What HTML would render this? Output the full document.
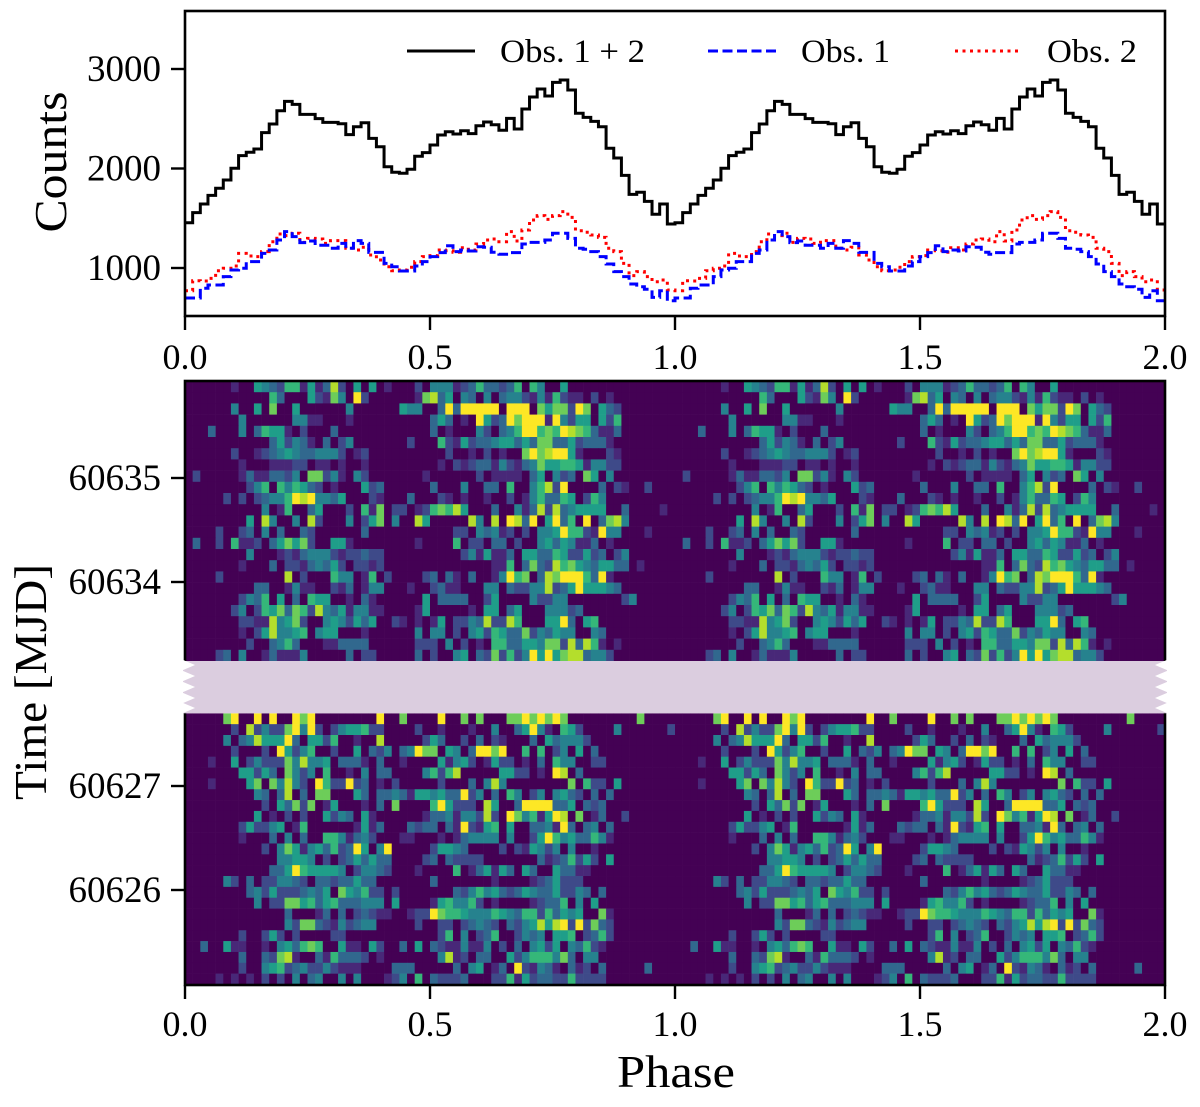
<!DOCTYPE html>
<html lang="en">
<head>
<meta charset="utf-8">
<title>Pulse profile and phaseogram</title>
<style>
html,body{margin:0;padding:0;background:#fff;}
svg{display:block;}
text{font-family:"Liberation Serif",serif;fill:#000;}
</style>
</head>
<body>
<svg id="chart" xmlns="http://www.w3.org/2000/svg" width="1200" height="1107" viewBox="0 0 1200 1107">
  <rect x="0" y="0" width="1200" height="1107" fill="#fff"/>
  <g id="profile-lines"></g>
  <g id="heat-cells"></g>
  <g id="gap-band"></g>
  <g id="frames"></g>
  <g id="ticks"></g>

  <text transform="translate(66,162) rotate(-90)" text-anchor="middle" font-size="46" textLength="141" lengthAdjust="spacingAndGlyphs">Counts</text>
  <text transform="translate(46,682) rotate(-90)" text-anchor="middle" font-size="46" textLength="236" lengthAdjust="spacingAndGlyphs">Time [MJD]</text>
  <text x="676" y="1087" text-anchor="middle" font-size="45" textLength="118" lengthAdjust="spacingAndGlyphs">Phase</text>

  <g>
    <line x1="407" y1="51" x2="475" y2="51" stroke="#000" stroke-width="3"/>
    <text x="500" y="62" font-size="33" textLength="145" lengthAdjust="spacingAndGlyphs">Obs. 1 + 2</text>
    <line x1="708" y1="51" x2="776" y2="51" stroke="#0000ff" stroke-width="3" stroke-dasharray="10 4.5"/>
    <text x="801" y="62" font-size="33" textLength="89" lengthAdjust="spacingAndGlyphs">Obs. 1</text>
    <line x1="955" y1="51" x2="1022" y2="51" stroke="#ff0000" stroke-width="3" stroke-dasharray="3 4.5"/>
    <text x="1047" y="62" font-size="33" textLength="90" lengthAdjust="spacingAndGlyphs">Obs. 2</text>
  </g>
</svg>

<script>
// ---- Data ----
const obsAllCounts = [1455,1556,1643,1730,1801,1884,2002,2129,2163,2196,2360,2447,2581,2675,2645,2544,2544,2501,2464,2464,2450,2340,2420,2460,2303,2219,2018,1962,1952,1992,2123,2159,
  2236,2337,2370,2347,2380,2350,2430,2467,2440,2384,2504,2397,2598,2719,2799,2729,2866,2889,2789,2555,2514,2474,2420,2203,2106,1931,1740,1761,1670,1540,1643,1442];
const obs1Counts = [698,698,796,829,829,913,980,997,1064,1064,1147,1181,1281,1365,1315,1255,1271,1228,1228,1198,1248,1198,1275,1248,1157,1157,1047,1013,970,970,1020,1064,
  1114,1154,1224,1164,1181,1171,1214,1208,1158,1138,1154,1154,1241,1258,1258,1281,1349,1349,1298,1198,1188,1164,1114,1040,963,913,839,812,786,705,772,671];
const obs2Counts = [772,872,869,896,973,997,1020,1147,1121,1114,1164,1264,1342,1325,1349,1258,1298,1291,1248,1275,1275,1198,1181,1208,1131,1080,1013,973,980,1007,1064,1114,
  1124,1181,1174,1158,1204,1181,1241,1281,1291,1264,1365,1271,1382,1482,1526,1489,1526,1566,1509,1375,1359,1332,1308,1198,1164,1047,923,963,913,862,879,779];

const countTickValues = [1000,2000,3000];
const phaseTickValues = [0,0.5,1,1.5,2];
const phaseTickLabels = ["0.0","0.5","1.0","1.5","2.0"];
const timeTickValues = [60635,60634,60627,60626];

// Rows of the phaseogram, top to bottom: one colour level (0-9) per phase bin, 64 bins.
const upperHeatRows = [
"00000010 05432661 51382050 50100020 44412363 32360640 05000000 00000000",
"00000000 00063000 52174092 00000017 83504304 03442141 62110201 00000000",
"00000040 05070050 00000400 00005440 03939999 90999075 77297053 20000000",
"00000004 00000044 11000100 00000000 35301095 23979991 94255052 60000000",
"00030004 03655102 00030000 00000000 30100042 03469967 69876311 30000000",
"00000000 00035243 10302400 00000200 06215233 45535377 33523331 00000000",
"00000020 01234543 34442012 00000000 00200102 01007978 99510002 10000000",
"00000001 00011122 01101001 00000000 01021233 14213475 56651442 20000000",
"02000001 31133240 77241042 00000001 00000020 11110350 42307504 00000000",
"00000000 24606465 32010005 23000000 30004003 30600468 29000030 21002000",
"00000202 02344698 94435000 21000300 02101001 00201463 36502640 00000000",
"00000000 00401600 35000206 17022012 67685000 30041382 83455550 03000010",
"00000000 50840040 82000402 57040085 00000840 80983905 93609037 84000000",
"00002002 30403003 20000003 00000000 00022043 41202044 59662194 40001000",
"03002061 12035757 20055100 00000010 00060220 33020045 35411301 00000000",
"00000000 40001213 44421223 22000000 00002415 11305533 65225230 24000000",
"00000001 00030221 34352022 12000000 00000000 11603732 86754355 33010000",
"00002000 00000802 00064401 60200002 30310300 14967038 79996391 00000000",
"00000000 03300141 10021301 44000100 23110004 40322448 23595554 30000000",
"00000002 43605030 65500103 10000005 03333002 50000422 44000000 02400000",
"00000024 02657376 28435144 11000015 00000105 50350004 44230000 00000000",
"00000002 21184572 00454253 50021010 15022438 22860005 59305600 00000000",
"00000001 02584456 04550001 00000040 44020452 65337243 54400430 00000000",
"00000000 20034630 00113333 00000022 20402010 66335547 72838610 10000000",
"00002304 00131114 00000302 20000030 20045032 72624959 57883442 00000000"
];
const lowerHeatRows = [
"00000790 09090097 90000000 09007000 09007070 00779797 97000000 00070000",
"00000020 82422794 92024556 22000020 01000100 40035941 06520000 40000002",
"00000403 48555930 55260010 08000002 53002030 21000305 34442000 00000000",
"00000020 00209524 60020050 32403497 70540399 79006060 24050300 00000000",
"00010050 24222748 44503331 03001000 05145201 52201030 64400220 00000000",
"00000005 52530742 40600104 03300004 62680000 05522010 98030000 00000000",
"00010000 57074842 09622923 01020000 02000304 84000000 00706220 50000000",
"00000000 04303803 07700053 03343155 45339240 30640240 45320303 00000000",
"00000000 00205372 70150001 03070000 69522208 50039999 33503230 00000000",
"00000000 05010202 00524305 10000001 33414428 20974615 98070130 02000000",
"00000002 52245016 00000015 13000323 30319215 60500334 19303403 00000000",
"00000001 00030403 00664134 20001100 01013444 40400259 64533641 00000000",
"00000000 00204751 45362395 04900000 25543000 02021542 40400100 00000000",
"00000000 00004455 40202353 53300002 30322220 00000031 23625205 00000000",
"00000000 00033596 55554024 43200010 00060135 15305300 53311000 00000000",
"00000420 30224432 03323353 30000000 30000000 10000123 52220000 00000000",
"00000000 34252223 43507546 22020000 00032464 53235433 52243030 00000000",
"00000000 04022775 63563334 44050000 15644620 10000123 36040500 00000000",
"00000000 00000300 01303023 21100122 97665444 65436626 35450071 00000000",
"00000000 00000427 73214234 40000020 02202343 20324585 89292732 00000000",
"00000002 00252020 00022000 00000000 02604023 60024340 55602362 00000000",
"00300511 00104536 76005110 52003050 32114114 02030452 50436210 00000000",
"00000003 00327810 03163332 01000000 04812033 00524666 47304400 00000000",
"00000002 00456234 22421110 00033300 00030450 13092143 10312030 00003000",
"00001010 10202040 34004040 00124060 32223000 22615233 22622220 00000000"
];
const colourLevels = ["#440154","#482878","#3e4a89","#31688e","#26828e","#1f9e89","#35b779","#6dcd59","#b4de2c","#fde725"];

// ---- Axis functions ----
const NS = "http://www.w3.org/2000/svg";
const plotLeft = 185, plotRight = 1165;
const profileTop = 11, profileBottom = 316;
const heatTop = 381, heatBottom = 985;
const upperTop = 381, upperBottom = 661, lowerTop = 713.3, lowerBottom = 984.5;
const phaseMax = 2;

function xPhase(p){ return plotLeft + (plotRight - plotLeft) * p / phaseMax; }
function yCounts(c){ return 268 - (c - 1000) * 0.0995; }
function yTime(t){
  return t >= 60630 ? 478 + (60635 - t) * 104 : 786 + (60627 - t) * 104;
}
function el(tag, attrs, parent){
  const n = document.createElementNS(NS, tag);
  for (const k in attrs) n.setAttribute(k, attrs[k]);
  parent.appendChild(n);
  return n;
}

// ---- Profile panel ----
function stepPath(values){
  const bins = values.length;
  let d = "";
  for (let rep = 0; rep < phaseMax; rep++){
    for (let i = 0; i < bins; i++){
      const x0 = xPhase(rep + i / bins), x1 = xPhase(rep + (i + 1) / bins), y = yCounts(values[i]);
      d += (d ? "L" : "M") + x0.toFixed(2) + " " + y.toFixed(2) + "L" + x1.toFixed(2) + " " + y.toFixed(2);
    }
  }
  return d;
}
const lineGroup = document.getElementById("profile-lines");

const obs2Line = el("path", {d: stepPath(obs2Counts), fill: "none", stroke: "#ff0000", "stroke-width": 3, "stroke-dasharray": "3 4.5"}, lineGroup);



const obs1Line = el("path", {d: stepPath(obs1Counts), fill: "none", stroke: "#0000ff", "stroke-width": 3, "stroke-dasharray": "10 4.5"}, lineGroup);



const obsAllLine = el("path", {d: stepPath(obsAllCounts), fill: "none", stroke: "#000", "stroke-width": 3}, lineGroup);



// ---- Phaseogram ----
const heatGroup = document.getElementById("heat-cells");
function drawRows(rows, top, bottom){
  const rowH = (bottom - top) / rows.length;
  rows.forEach(function(rowText, r){
    const levels = rowText.replace(/ /g, "");
    const bins = levels.length;
    for (let rep = 0; rep < phaseMax; rep++){
      for (let i = 0; i < bins; i++){
        const x0 = xPhase(rep + i / bins), x1 = xPhase(rep + (i + 1) / bins);
        const cell = el("rect", {
          x: x0.toFixed(2),
          y: (top + r * rowH).toFixed(2),
          width: (x1 - x0 + 0.3).toFixed(2),
          height: (rowH + 0.3).toFixed(2),
          fill: colourLevels[+levels[i]]
        }, heatGroup);
        
        
      }
    }
  });
}
drawRows(upperHeatRows, upperTop, upperBottom);
drawRows(lowerHeatRows, lowerTop, lowerBottom);

// ---- Frames ----
const frameGroup = document.getElementById("frames");
const profileFrame = el("rect", {x: plotLeft, y: profileTop, width: plotRight - plotLeft, height: profileBottom - profileTop, fill: "none", stroke: "#000", "stroke-width": 2.6}, frameGroup);



const heatFrame = el("rect", {x: plotLeft, y: heatTop, width: plotRight - plotLeft, height: heatBottom - heatTop, fill: "none", stroke: "#000", "stroke-width": 2.6}, frameGroup);



// ---- Gap band with zig-zag edges ----
const gapGroup = document.getElementById("gap-band");
const bandRect = el("rect", {x: plotLeft - 2, y: upperBottom, width: plotRight - plotLeft + 4, height: lowerTop - upperBottom, fill: "#dbcddf"}, gapGroup);


gapGroup.parentNode.appendChild(gapGroup);

const toothCentres = [665, 676, 687, 698, 708];
toothCentres.forEach(function(cy){
  const leftTooth = el("polygon", {points: (plotLeft-3)+","+(cy-5.5)+" "+(plotLeft+10)+","+cy+" "+(plotLeft-3)+","+(cy+5.5), fill: "#fff"}, gapGroup);
  
  
  const rightTooth = el("polygon", {points: (plotRight+3)+","+(cy-5.5)+" "+(plotRight-10)+","+cy+" "+(plotRight+3)+","+(cy+5.5), fill: "#fff"}, gapGroup);
  
  
});

// ---- Ticks and labels ----
const tickGroup = document.getElementById("ticks");
phaseTickValues.forEach(function(p, i){
  const x = xPhase(p);
  const topTick = el("line", {x1: x, x2: x, y1: profileBottom, y2: profileBottom + 14, stroke: "#000", "stroke-width": 2.4}, tickGroup);
  
  
  const topLabel = el("text", {x: x, y: 369, "text-anchor": "middle", "font-size": 36}, tickGroup);
  
  
  topLabel.textContent = phaseTickLabels[i];
  const lowTick = el("line", {x1: x, x2: x, y1: heatBottom, y2: heatBottom + 14, stroke: "#000", "stroke-width": 2.4}, tickGroup);
  
  
  const lowLabel = el("text", {x: x, y: 1036, "text-anchor": "middle", "font-size": 36}, tickGroup);
  
  
  lowLabel.textContent = phaseTickLabels[i];
});
countTickValues.forEach(function(c){
  const y = yCounts(c);
  const tick = el("line", {x1: plotLeft - 14, x2: plotLeft, y1: y, y2: y, stroke: "#000", "stroke-width": 2.4}, tickGroup);
  
  
  const label = el("text", {x: 161, y: y + 12, "text-anchor": "end", "font-size": 37}, tickGroup);
  
  
  label.textContent = String(c);
});
timeTickValues.forEach(function(t){
  const y = yTime(t);
  const tick = el("line", {x1: plotLeft - 14, x2: plotLeft, y1: y, y2: y, stroke: "#000", "stroke-width": 2.4}, tickGroup);
  
  
  const label = el("text", {x: 161, y: y + 12, "text-anchor": "end", "font-size": 37}, tickGroup);
  
  
  label.textContent = String(t);
});
</script>
</body>
</html>
